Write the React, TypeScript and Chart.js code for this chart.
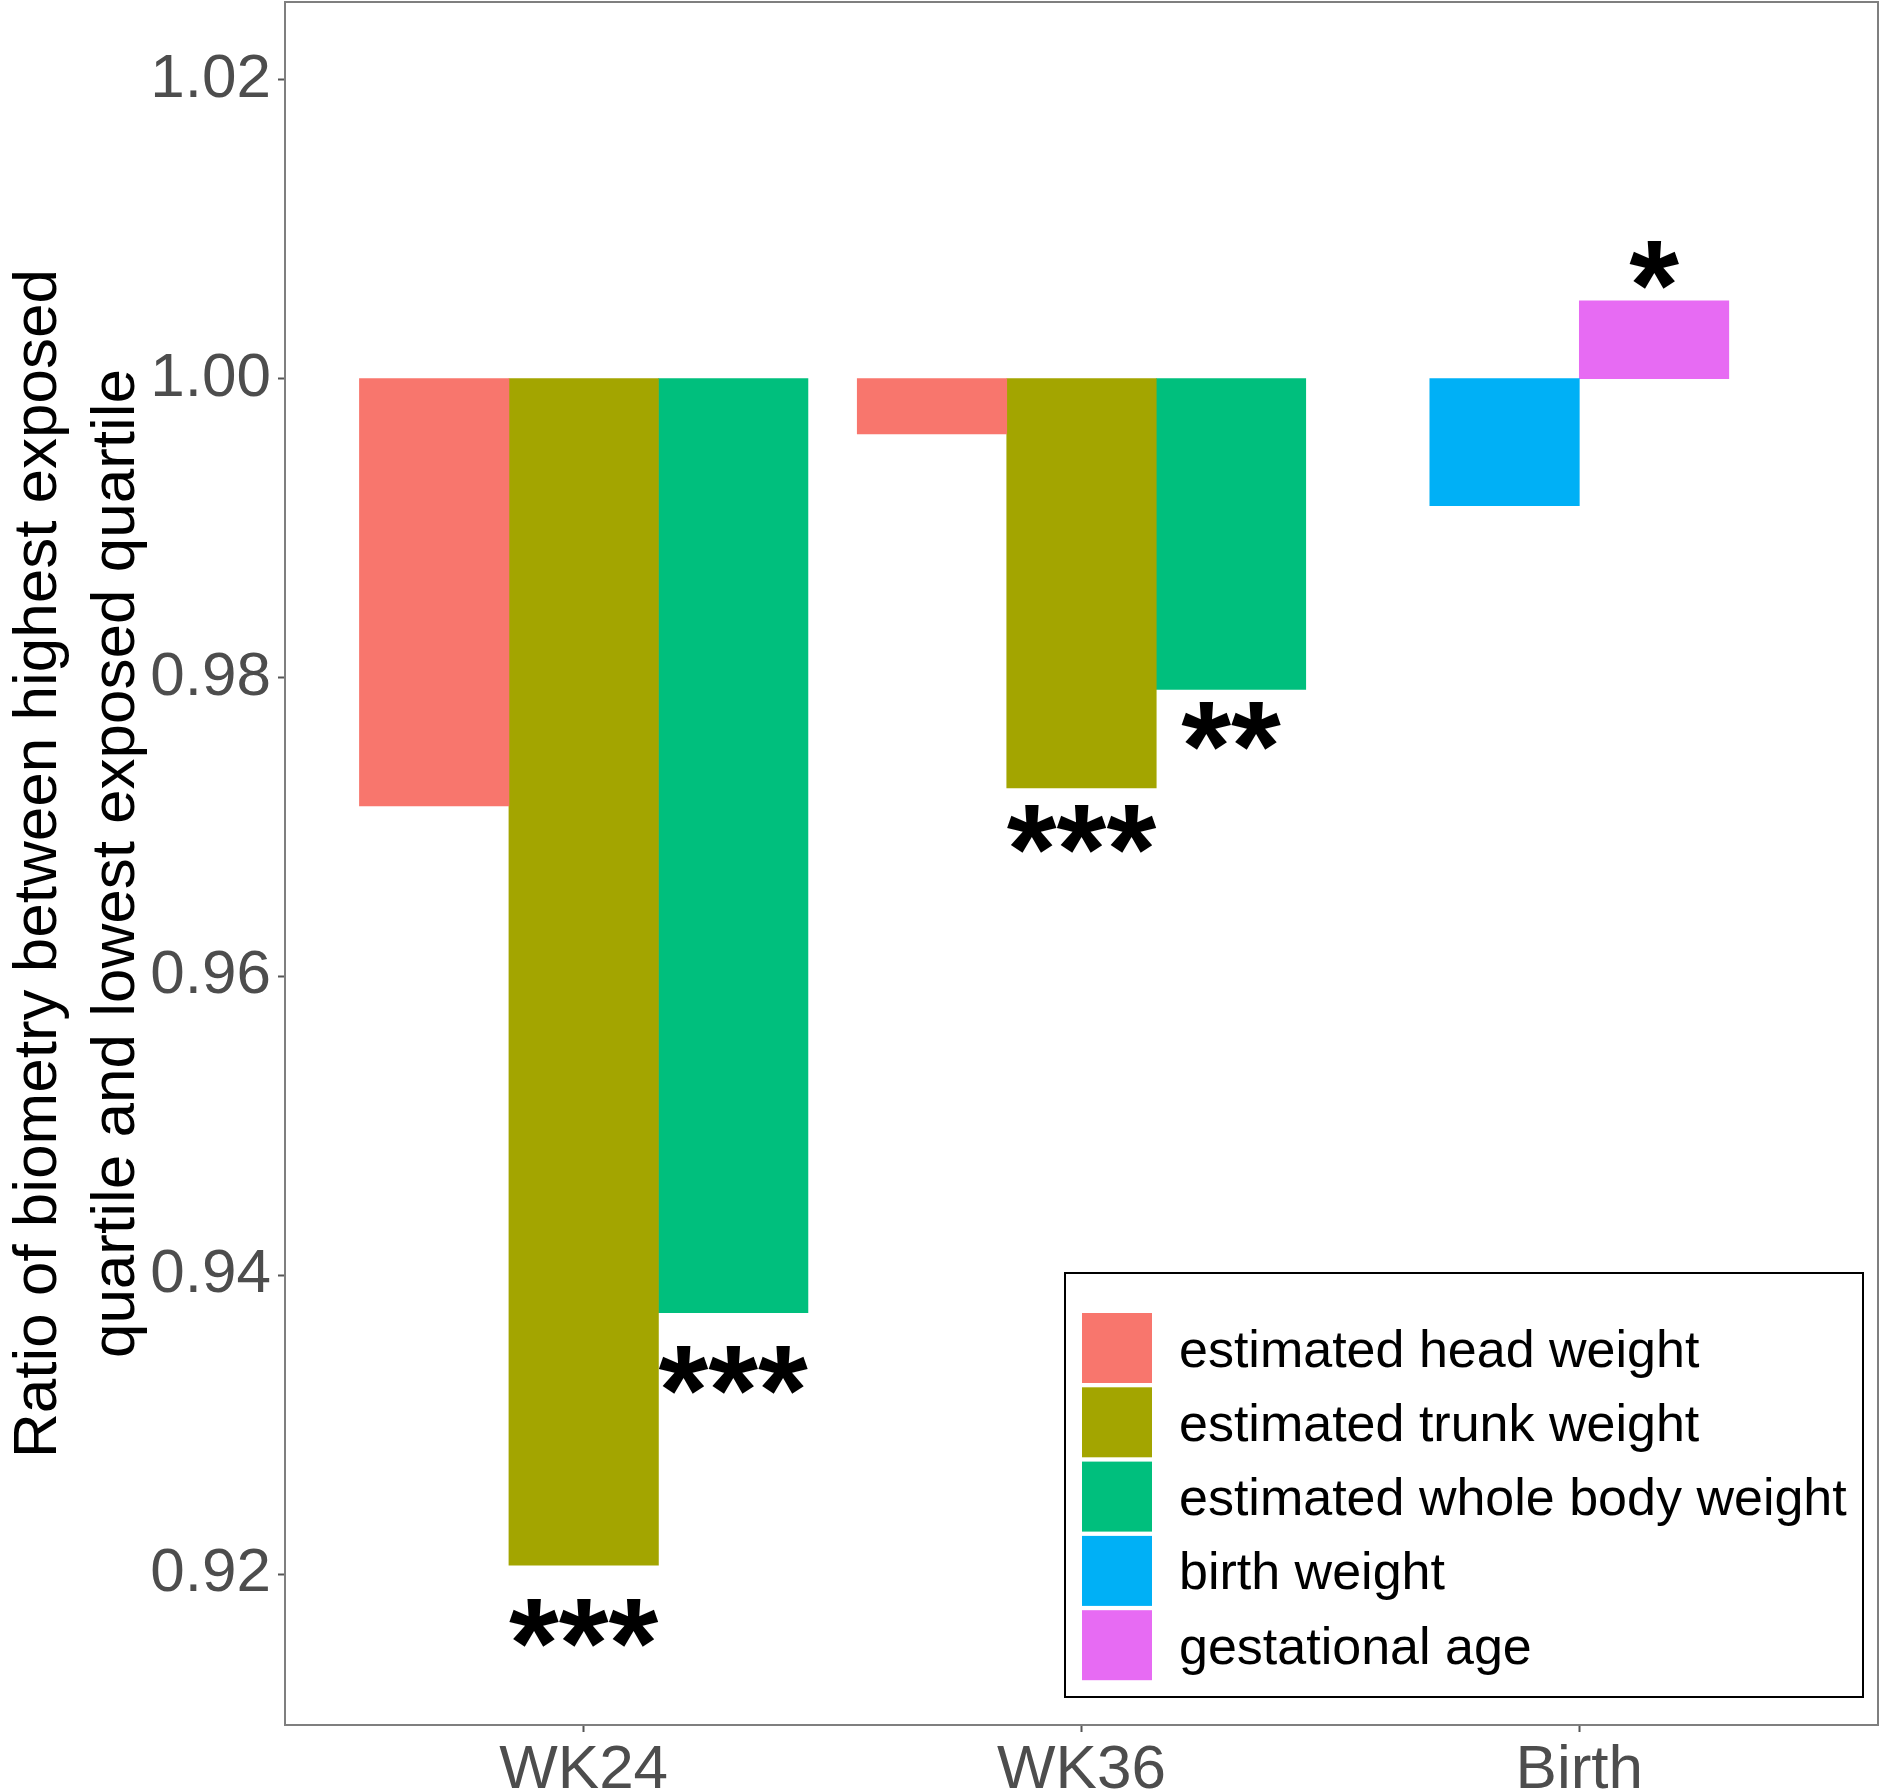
import React, { useEffect, useRef } from "react";
import { Chart, registerables } from "chart.js";

Chart.register(...registerables);

// ---------- data ----------
const categories = ["WK24", "WK36", "Birth"];
const seriesNames = [
  "estimated head weight",
  "estimated trunk weight",
  "estimated whole body weight",
  "birth weight",
  "gestational age",
];
const seriesColors = ["#F8766D", "#A3A500", "#00BF7D", "#00B0F6", "#E76BF3"];

const headWeight = [0.9714, 0.9963, null];
const trunkWeight = [0.9206, 0.9726, null];
const wholeBodyWeight = [0.9375, 0.9792, null];
const birthWeight = [null, null, 0.9915];
const gestationalAge = [null, null, 1.0052];

const ratioBaseline = 1.0;

// significance marks (label, and the value where its centre sits)
const headSig = ["", "", ""];
const trunkSig = ["***", "***", ""];
const wholeBodySig = ["***", "**", ""];
const birthSig = ["", "", ""];
const gestationalSig = ["", "", "*"];

const headSigAt = [null, null, null];
const trunkSigAt = [0.917, 0.9701, null];
const wholeBodySigAt = [0.9339, 0.977, null];
const birthSigAt = [null, null, null];
const gestationalSigAt = [null, null, 1.0079];

const yTickValues = [0.92, 0.94, 0.96, 0.98, 1.0, 1.02];
const yMin = 0.9099;
const yMax = 1.0252;

const yTitle = [
  "Ratio of biometry between highest exposed",
  "quartile and lowest exposed quartile",
];

const FONT = "'Liberation Sans', Arial, Helvetica, sans-serif";

export default function App() {
  const canvasRef = useRef<HTMLCanvasElement | null>(null);

  useEffect(() => {
    document.body.style.margin = "0";
    const canvas = canvasRef.current;
    if (!canvas) return;

    const seriesValues = [headWeight, trunkWeight, wholeBodyWeight, birthWeight, gestationalAge];
    const seriesSig = [headSig, trunkSig, wholeBodySig, birthSig, gestationalSig];
    const seriesSigAt = [headSigAt, trunkSigAt, wholeBodySigAt, birthSigAt, gestationalSigAt];

    const datasets = seriesNames.map((name, si) => ({
      label: name,
      data: seriesValues[si].map((v, i) => ({
        x: i,
        y: v == null ? null : [ratioBaseline, v],
      })),
      backgroundColor: seriesColors[si],
      borderWidth: 0,
      barThickness: 149.5,
      skipNull: true,
    }));

    const panelBorder = {
      id: "panelBorder",
      afterDraw(chart: any) {
        const { ctx, chartArea } = chart;
        ctx.save();
        ctx.strokeStyle = "#7F7F7F";
        ctx.lineWidth = 2;
        ctx.strokeRect(chartArea.left, chartArea.top, chartArea.right - chartArea.left, chartArea.bottom - chartArea.top);
        ctx.restore();
      },
    };

    const sigMarks = {
      id: "sigMarks",
      afterDatasetsDraw(chart: any) {
        const { ctx } = chart;
        const yScale = chart.scales.y;
        ctx.save();
        ctx.fillStyle = "#000000";
        ctx.font = `bold 128px ${FONT}`;
        ctx.textAlign = "center";
        ctx.textBaseline = "alphabetic";
        seriesSig.forEach((labels, si) => {
          const meta = chart.getDatasetMeta(si);
          labels.forEach((lab, i) => {
            const at = seriesSigAt[si][i];
            if (!lab || at == null) return;
            const el = meta.data[i];
            if (!el) return;
            const cy = yScale.getPixelForValue(at);
            ctx.fillText(lab, el.x, cy + 68);
          });
        });
        ctx.restore();
      },
    };

    const boxLegend = {
      id: "boxLegend",
      afterDraw(chart: any) {
        const { ctx, chartArea } = chart;
        const right = chartArea.right - 15;
        const bottom = chartArea.bottom - 28;
        const w = 798;
        const h = 424;
        const left = right - w;
        const top = bottom - h;
        ctx.save();
        ctx.fillStyle = "#FFFFFF";
        ctx.fillRect(left, top, w, h);
        ctx.strokeStyle = "#000000";
        ctx.lineWidth = 2;
        ctx.strokeRect(left, top, w, h);
        ctx.font = `52px ${FONT}`;
        ctx.textAlign = "left";
        ctx.textBaseline = "alphabetic";
        seriesNames.forEach((name, i) => {
          const ky = top + 40 + i * 74.3;
          ctx.fillStyle = seriesColors[i];
          ctx.fillRect(left + 17, ky, 70, 70);
          ctx.fillStyle = "#000000";
          ctx.fillText(name, left + 114, ky + 35 + 18.5);
        });
        ctx.restore();
      },
    };

    const zeroPad = (s: any) => {
      s.paddingTop = 0;
      s.paddingBottom = 0;
      s.paddingLeft = 0;
      s.paddingRight = 0;
    };

    const chart = new Chart(canvas, {
      type: "bar",
      data: { datasets: datasets as any },
      options: {
        animation: false,
        responsive: false,
        devicePixelRatio: 1,
        layout: { padding: { top: 2, right: 12, left: 0, bottom: 0 } },
        plugins: {
          legend: { display: false },
          tooltip: { enabled: false },
        },
        scales: {
          x: {
            type: "linear",
            min: -0.6,
            max: 2.6,
            offset: false,
            afterBuildTicks: (s: any) => {
              s.ticks = categories.map((_, i) => ({ value: i }));
            },
            afterFit: (s: any) => {
              s.height = 67;
              zeroPad(s);
            },
            ticks: {
              autoSkip: false,
              maxRotation: 0,
              color: "#4D4D4D",
              font: { family: FONT, size: 62 },
              padding: 2,
              callback: (v: any) => categories[Math.round(Number(v))] ?? "",
            },
            grid: {
              display: true,
              offset: false,
              drawOnChartArea: false,
              drawTicks: true,
              tickLength: 7,
              tickColor: "#555555",
              tickWidth: 2,
            },
            border: { display: false },
          },
          y: {
            type: "linear",
            min: yMin,
            max: yMax,
            afterBuildTicks: (s: any) => {
              s.ticks = yTickValues.map((v) => ({ value: v }));
            },
            afterFit: (s: any) => {
              s.width = 285;
              zeroPad(s);
            },
            ticks: {
              color: "#4D4D4D",
              font: { family: FONT, size: 62 },
              padding: 7,
              callback: (v: any) => Number(v).toFixed(2),
            },
            grid: {
              display: true,
              offset: false,
              drawOnChartArea: false,
              drawTicks: true,
              tickLength: 7,
              tickColor: "#555555",
              tickWidth: 2,
            },
            border: { display: false },
            title: {
              display: true,
              text: yTitle,
              color: "#000000",
              font: { family: FONT, size: 62, lineHeight: 1.26 },
              padding: { top: 0, bottom: 0 },
            },
          },
        },
      },
      plugins: [sigMarks, boxLegend, panelBorder],
    });

    return () => {
      chart.destroy();
    };
  }, []);

  return (
    <div style={{ width: 1890, height: 1792, background: "#FFFFFF" }}>
      <canvas ref={canvasRef} width={1890} height={1792} style={{ display: "block" }} />
    </div>
  );
}
